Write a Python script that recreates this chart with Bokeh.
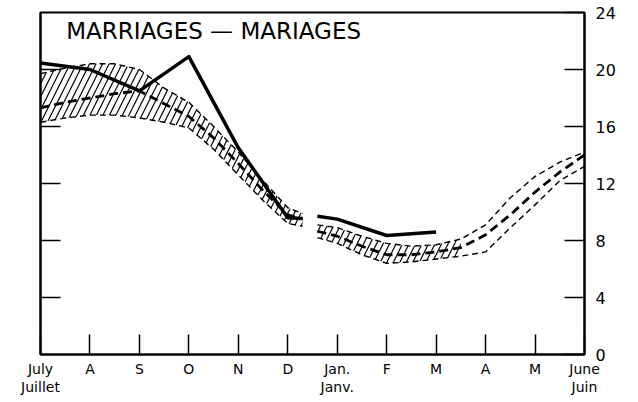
from bokeh.plotting import figure
from bokeh.models import LinearAxis, FixedTicker, Range1d, Label
from bokeh.embed import file_html
from bokeh.resources import INLINE

# ---- data ----
month_labels = ["July\nJuillet", "A", "S", "O", "N", "D", "Jan.\nJanv.",
                "F", "M", "A", "M", "June\nJuin"]
month_pos = list(range(12))
y_ticks = [0, 4, 8, 12, 16, 20, 24]
inner_y_ticks = [4, 8, 12, 16, 20]

# actual marriages (solid line), two segments (break at year end)
actual1_x = [0, 1, 2, 3, 4, 5, 5.3]
actual1_y = [20.45, 20.0, 18.5, 20.9, 14.5, 9.6, 9.55]
actual2_x = [5.6, 6, 7, 8]
actual2_y = [9.7, 9.5, 8.35, 8.6]

# expected band (upper / centre / lower), first segment
band1_x = [0, 0.5, 1, 1.5, 2, 2.5, 3, 3.5, 4, 4.5, 5, 5.3]
band1_up = [19.7, 20.1, 20.4, 20.4, 20.0, 18.7, 17.7, 16.0, 14.2, 12.2, 10.3, 9.9]
band1_mid = [17.3, 17.7, 18.0, 18.3, 18.5, 17.6, 16.7, 15.2, 13.4, 11.5, 9.8, 9.5]
band1_lo = [16.3, 16.6, 16.8, 16.8, 16.6, 16.3, 15.9, 14.4, 12.6, 10.8, 9.2, 9.0]

# second segment
band2_x = [5.6, 6, 6.5, 7, 7.5, 8, 8.5, 9, 9.5, 10, 10.5, 11]
band2_up = [9.1, 8.9, 8.3, 7.8, 7.6, 7.7, 8.1, 9.1, 11.0, 12.5, 13.5, 14.2]
band2_mid = [8.65, 8.3, 7.6, 7.0, 7.0, 7.2, 7.5, 8.4, 9.8, 11.4, 12.8, 14.0]
band2_lo = [8.2, 7.8, 7.0, 6.4, 6.5, 6.7, 6.9, 7.2, 8.9, 10.5, 12.2, 13.2]
hatch2_n = 7  # hatched part of second segment (through x = 8.5)

title_text = "MARRIAGES \u2014 MARIAGES"

# ---- figure ----
p = figure(frame_width=544, frame_height=342, x_range=Range1d(0, 11), y_range=Range1d(0, 24),
           output_backend="svg", toolbar_location=None,
           x_axis_location=None, y_axis_location=None,
           min_border_left=40, min_border_right=10, min_border_top=12, min_border_bottom=10)
for g in p.grid:
    g.visible = False
p.outline_line_color = "black"
p.outline_line_width = 2
p.background_fill_color = "white"
p.border_fill_color = "white"

font = "DejaVu Sans"

xaxis = LinearAxis(ticker=FixedTicker(ticks=month_pos),
                   major_label_overrides={i: m for i, m in zip(month_pos, month_labels)},
                   major_tick_in=20, major_tick_out=0, minor_tick_line_color=None,
                   axis_line_width=2, major_tick_line_width=1.5,
                   major_label_text_font=font, major_label_text_font_size="14px",
                   major_label_text_color="black", major_label_standoff=6,
                   major_label_text_line_height=1.15)
p.add_layout(xaxis, "below")

raxis = LinearAxis(ticker=FixedTicker(ticks=y_ticks),
                   major_tick_in=20, major_tick_out=0, minor_tick_line_color=None,
                   axis_line_width=2, major_tick_line_width=1.5,
                   major_label_text_font=font, major_label_text_font_size="16px",
                   major_label_text_color="black", major_label_standoff=11)
p.add_layout(raxis, "right")

laxis = LinearAxis(ticker=FixedTicker(ticks=inner_y_ticks),
                   major_tick_in=20, major_tick_out=0, minor_tick_line_color=None,
                   axis_line_width=2, major_tick_line_width=1.5,
                   major_label_text_font_size="0px", major_label_text_color=None,
                   major_label_standoff=0)
p.add_layout(laxis, "left")

hatch_kw = dict(fill_color=None, hatch_pattern="/", hatch_color="black",
                hatch_scale=13, hatch_weight=1.2)

p.varea(x=band1_x, y1=band1_lo, y2=band1_up, **hatch_kw)
p.varea(x=band2_x[:hatch2_n], y1=band2_lo[:hatch2_n], y2=band2_up[:hatch2_n], **hatch_kw)

for xs, ys in [(band1_x, band1_up), (band1_x, band1_lo), (band2_x, band2_up), (band2_x, band2_lo)]:
    p.line(xs, ys, line_color="black", line_width=1.4, line_dash="6 4")
for xs, ys in [(band1_x, band1_mid), (band2_x, band2_mid)]:
    p.line(xs, ys, line_color="black", line_width=2.8, line_dash="9 5")

p.line(actual1_x, actual1_y, line_color="black", line_width=3.5, line_join="round")
p.line(actual2_x, actual2_y, line_color="black", line_width=3.5, line_join="round")

p.add_layout(Label(x=3.5, y=22.7, text=title_text, text_align="center",
                   text_baseline="middle", text_font=font, text_font_size="23px",
                   text_color="black"))

open("out.html", "w").write(file_html(p, INLINE))
